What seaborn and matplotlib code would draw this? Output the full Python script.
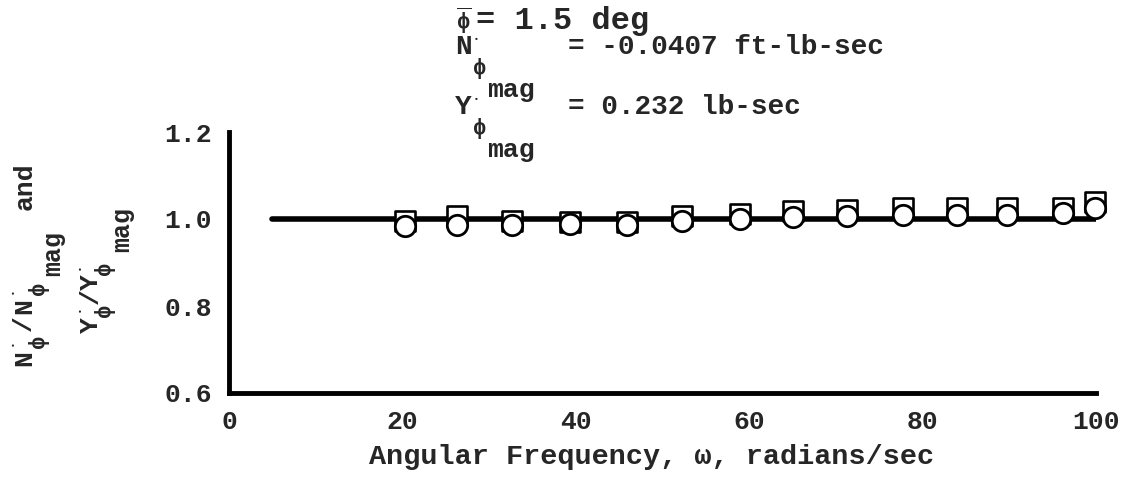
import matplotlib
matplotlib.use("Agg")
import matplotlib.pyplot as plt
import seaborn as sns
import pandas as pd

omega = [20.3, 26.3, 32.6, 39.3, 45.9, 52.2, 58.9, 65.0, 71.3, 77.7, 84.0, 89.7, 96.2, 99.9]
n_ratio = [0.996, 1.007, 0.996, 0.993, 0.994, 1.007, 1.011, 1.018, 1.020, 1.026, 1.026, 1.026, 1.026, 1.040]
y_ratio = [0.984, 0.986, 0.986, 0.989, 0.986, 0.996, 1.000, 1.004, 1.006, 1.009, 1.009, 1.010, 1.014, 1.026]

# fairing line
line_omega = [5, 100]
line_ratio = [1.0, 1.0]

xticks_major = [0, 20, 40, 60, 80, 100]
xticks_minor = [10, 30, 50, 70, 90]
yticks = [0.6, 0.8, 1.0, 1.2]
ytick_labels = ["0.6", "0.8", "1.0", "1.2"]

MONO = "Liberation Mono"

sns.set_style("white")
plt.rcParams["font.family"] = [MONO, "DejaVu Sans"]
plt.rcParams["font.weight"] = "bold"
plt.rcParams["mathtext.fontset"] = "custom"
plt.rcParams["mathtext.rm"] = "Liberation Mono:bold"
plt.rcParams["mathtext.it"] = "Liberation Mono:bold"
plt.rcParams["mathtext.bf"] = "Liberation Mono:bold"

W, H = 1124, 491
fig = plt.figure(figsize=(W / 100, H / 100), dpi=100)
ax = fig.add_axes([229 / W, 1 - 393 / H, (1096 - 229) / W, (393 - 132) / H])

df_line = pd.DataFrame({"omega": line_omega, "ratio": line_ratio})
df_pts = pd.DataFrame({"omega": omega, "n": n_ratio, "y": y_ratio})

sns.lineplot(data=df_line, x="omega", y="ratio", color="black", linewidth=4, ax=ax, zorder=2)
sns.scatterplot(data=df_pts, x="omega", y="n", marker="s", s=200, facecolor="white",
                edgecolor="black", linewidth=1.9, ax=ax, zorder=3, clip_on=False)
sns.scatterplot(data=df_pts, x="omega", y="y", marker="o", s=215, facecolor="white",
                edgecolor="black", linewidth=2.0, ax=ax, zorder=4, clip_on=False)

ax.set_xlim(0, 100)
ax.set_ylim(0.6, 1.2)
ax.set_xticks(xticks_major)
ax.set_xticks(xticks_minor, minor=True)
ax.set_yticks(yticks)
ax.set_yticklabels(ytick_labels)
ax.tick_params(axis="both", which="both", direction="in", width=2, color="black",
               labelsize=19, pad=12)
ax.tick_params(axis="x", which="both", length=15)
ax.tick_params(axis="y", length=16)
ax.set_xlabel("")
ax.set_ylabel("")

for side in ["top", "right"]:
    ax.spines[side].set_visible(False)
for side in ["left", "bottom"]:
    ax.spines[side].set_linewidth(3.5)
    ax.spines[side].set_color("black")

fig.text(652 / W, 1 - 457 / H, "Angular Frequency, ω, radians/sec", ha="center",
         va="center", fontsize=20.5, fontweight="bold")


def px(x, y, s, size=20, **kw):
    fig.text(x / W, 1 - y / H, s, fontsize=size, fontweight="bold", **kw)


def rot(x, y, s, size=19):
    fig.text(x / W, 1 - y / H, s, fontsize=size, fontweight="bold", rotation=90,
             ha="center", va="center")


# y-axis labels, built piece by piece (read bottom to top)
rot(24, 358, "N")
rot(13, 343, "•", size=6)
rot(38, 341, "ϕ", size=16)
rot(24, 323, "/")
rot(24, 306, "N")
rot(13, 291, "•", size=6)
rot(38, 288, "ϕ", size=16)
rot(53, 254, "mag", size=18)
rot(25, 186, "and")

rot(91, 325, "Y")
rot(80, 310, "•", size=6)
rot(105, 310, "ϕ", size=16)
rot(91, 296, "/")
rot(91, 282, "Y")
rot(80, 267, "•", size=6)
rot(105, 268, "ϕ", size=16)
rot(122, 229, "mag", size=18)

# annotations
px(456, 29, r"$\overline{\phi}$", size=16, va="baseline")
px(476, 29, "= 1.5 deg", size=23, va="baseline")

px(455, 54, "N", va="baseline")
px(474, 40, "•", size=6, va="center")
px(473, 74, "ϕ", size=16, va="baseline")
px(487, 97, "mag", size=19, va="baseline")
px(568, 54, "= -0.0407 ft-lb-sec", va="baseline")

px(455, 114, "Y", va="baseline")
px(474, 100, "•", size=6, va="center")
px(473, 134, "ϕ", size=16, va="baseline")
px(487, 157, "mag", size=19, va="baseline")
px(568, 114, "= 0.232 lb-sec", va="baseline")

fig.savefig("out.png", dpi=100)
